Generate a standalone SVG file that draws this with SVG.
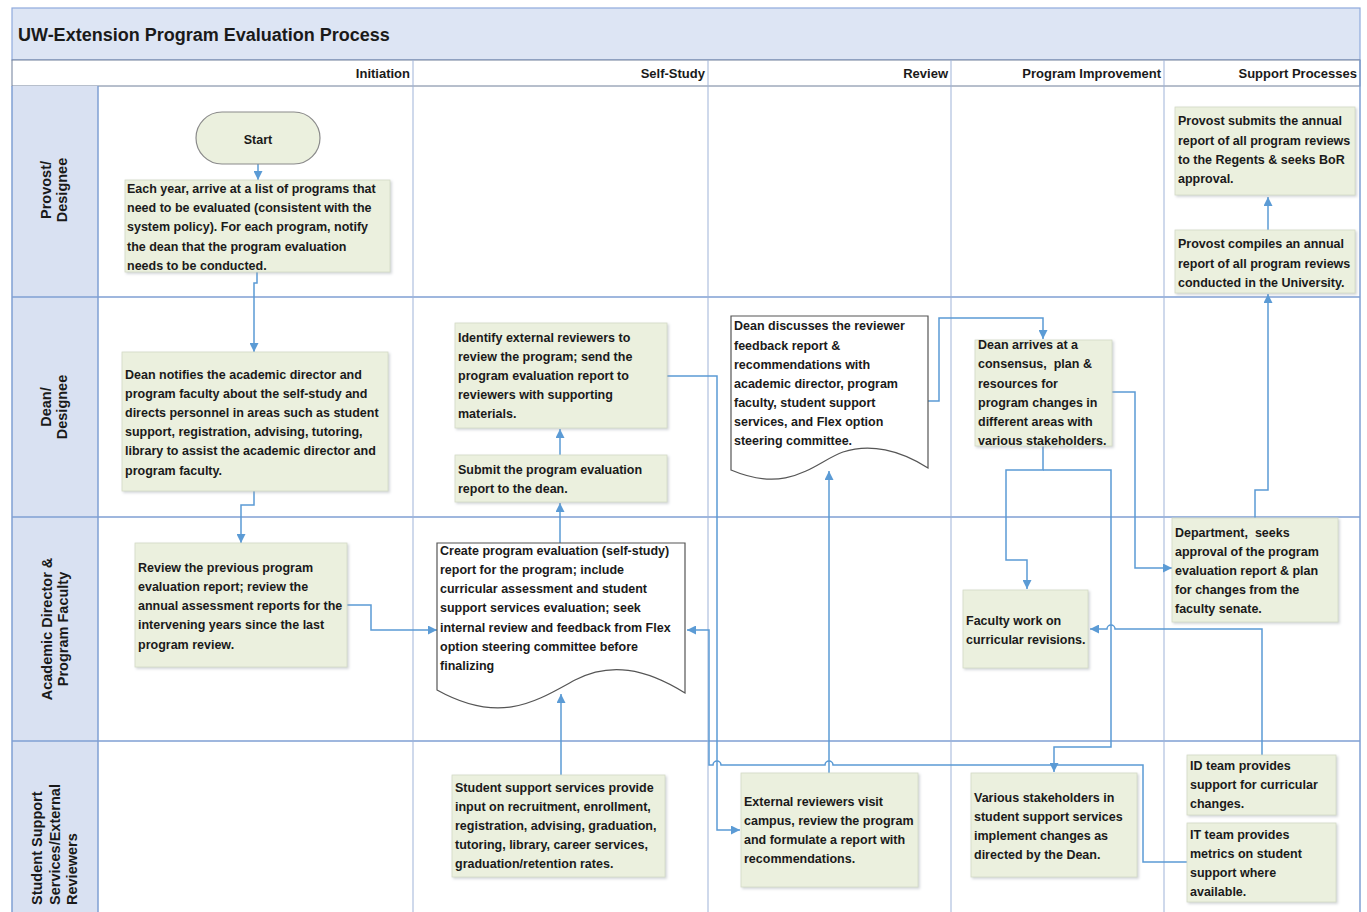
<svg xmlns="http://www.w3.org/2000/svg" width="1367" height="912" viewBox="0 0 1367 912">
<style>
.t{font-family:"Liberation Sans",Arial,sans-serif;font-weight:bold;font-size:12.5px;fill:#1a1a1a;white-space:pre}
.hd{font-family:"Liberation Sans",Arial,sans-serif;font-weight:bold;font-size:13px;fill:#1a1a1a;text-anchor:end}
.ln{font-family:"Liberation Sans",Arial,sans-serif;font-weight:bold;font-size:14.5px;fill:#1a1a1a}
.box{fill:#ebf0de;stroke:#d3d9c6;stroke-width:0.8;filter:url(#sh)}
.doc{fill:#ffffff;stroke:#555555;stroke-width:1.2}
.c{fill:none;stroke:#5b9bd5;stroke-width:1.5}
.ca{fill:none;stroke:#5b9bd5;stroke-width:1.5;marker-end:url(#ar)}
.lane{stroke:#7f9fd3;stroke-width:1.5;fill:none}
.col{stroke:#9fb3d8;stroke-width:1;fill:none}
</style>
<defs>
<marker id="ar" viewBox="0 0 10 10" refX="10" refY="5" markerWidth="9" markerHeight="9" markerUnits="userSpaceOnUse" orient="auto">
<path d="M0,0 L10,5 L0,10 Z" fill="#5b9bd5"/>
</marker>
<filter id="sh" x="-5%" y="-5%" width="115%" height="120%">
<feDropShadow dx="1.5" dy="1.5" stdDeviation="1" flood-color="#9aa0a8" flood-opacity="0.45"/>
</filter>
</defs>
<rect width="1367" height="912" fill="#ffffff"/>
<g id="frame">
<rect x="12" y="8" width="1348" height="52" fill="#dde5f4" stroke="#8faadc" stroke-width="1.2"/>
<text x="18" y="41" style="font-family:'Liberation Sans',Arial,sans-serif;font-weight:bold;font-size:18px;fill:#1a1a1a">UW-Extension Program Evaluation Process</text>
<rect x="12" y="60" width="1348" height="26" fill="#ffffff" stroke="#6f7f99" stroke-width="1"/>
<rect x="12" y="86" width="86" height="826" fill="#d9e1f2"/>
<line class="lane" x1="98" y1="86" x2="98" y2="912"/>
<line class="lane" x1="12" y1="86" x2="12" y2="912"/>
<line class="lane" x1="1360" y1="60" x2="1360" y2="912"/>
<line class="lane" x1="12" y1="297" x2="1360" y2="297"/>
<line class="lane" x1="12" y1="517" x2="1360" y2="517"/>
<line class="lane" x1="12" y1="741" x2="1360" y2="741"/>
<line class="col" x1="413" y1="60" x2="413" y2="912"/>
<line class="col" x1="708" y1="60" x2="708" y2="912"/>
<line class="col" x1="951" y1="60" x2="951" y2="912"/>
<line class="col" x1="1164" y1="60" x2="1164" y2="912"/>
<text class="hd" x="410" y="78">Initiation</text>
<text class="hd" x="705" y="78">Self-Study</text>
<text class="hd" x="948" y="78">Review</text>
<text class="hd" x="1161" y="78">Program Improvement</text>
<text class="hd" x="1357" y="78">Support Processes</text>
<g text-anchor="middle">
<text class="ln" transform="translate(51,190) rotate(-90)">Provost/</text>
<text class="ln" transform="translate(67,190) rotate(-90)">Designee</text>
<text class="ln" transform="translate(51,407) rotate(-90)">Dean/</text>
<text class="ln" transform="translate(67,407) rotate(-90)">Designee</text>
<text class="ln" transform="translate(52,629) rotate(-90)">Academic Director &amp;</text>
<text class="ln" transform="translate(68,629) rotate(-90)">Program Faculty</text>
</g>
<text class="ln" transform="translate(42,905) rotate(-90)">Student Support</text>
<text class="ln" transform="translate(60,905) rotate(-90)">Services/External</text>
<text class="ln" transform="translate(77,905) rotate(-90)">Reviewers</text>
</g>
<g id="connectors">
<path class="ca" d="M258,164 V180"/>
<path class="ca" d="M257,272 V283 H254 V352"/>
<path class="ca" d="M254,491 V505 H241 V543"/>
<path class="ca" d="M347,605 H371 V630 H437"/>
<path class="ca" d="M560,543 V503"/>
<path class="ca" d="M560,455 V429"/>
<path class="ca" d="M561,775 V694"/>
<path class="ca" d="M667,376 H717 V830 H740"/>
<path class="ca" d="M829,773 V471"/>
<path class="ca" d="M928,401 H939 V318 H1043 V339"/>
<path class="ca" d="M1043,446 V470 H1006 V560 H1027 V589"/>
<path class="ca" d="M1043,470 H1111 V747 H1054 V772"/>
<path class="ca" d="M1112,392 H1135 V568 H1172"/>
<path class="ca" d="M1262,755 V629 H1115 a4,4 0 0 0 -8,0 H1090"/>
<path class="ca" d="M1187,862 H1143 V765 H833 a4,4 0 0 0 -8,0 H721 a4,4 0 0 0 -8,0 H709 V630 H687"/>
<path class="ca" d="M1255,518 V490 H1268 V294"/>
<path class="ca" d="M1268,230 V197"/>
</g>
<g id="start">
<rect x="196" y="112" width="124" height="52" rx="26" fill="#ebf0de" stroke="#8a8a8a" stroke-width="1.2"/>
<text class="t" x="258" y="143.5" text-anchor="middle">Start</text>
</g>
<g id="n-list">
<rect class="box" x="125" y="180" width="265" height="92"/>
<text class="t" x="127" y="192.5">Each year, arrive at a list of programs that</text>
<text class="t" x="127" y="211.5">need to be evaluated (consistent with the</text>
<text class="t" x="127" y="230.5">system policy). For each program, notify</text>
<text class="t" x="127" y="250.5">the dean that the program evaluation</text>
<text class="t" x="127" y="269.5">needs to be conducted.</text>
</g>
<g id="n-dean-notifies">
<rect class="box" x="122" y="352" width="266" height="139"/>
<text class="t" x="125" y="378.5">Dean notifies the academic director and</text>
<text class="t" x="125" y="397.5">program faculty about the self-study and</text>
<text class="t" x="125" y="416.5">directs personnel in areas such as student</text>
<text class="t" x="125" y="435.5">support, registration, advising, tutoring,</text>
<text class="t" x="125" y="454.5">library to assist the academic director and</text>
<text class="t" x="125" y="474.5">program faculty.</text>
</g>
<g id="n-review-previous">
<rect class="box" x="135" y="543" width="212" height="124"/>
<text class="t" x="138" y="571.5">Review the previous program</text>
<text class="t" x="138" y="590.5">evaluation report; review the</text>
<text class="t" x="138" y="609.5">annual assessment reports for the</text>
<text class="t" x="138" y="628.5">intervening years since the last</text>
<text class="t" x="138" y="648.5">program review.</text>
</g>
<g id="n-create">
<path class="doc" d="M437,543 H685 V693 C645,668 610,662 575,680 C535,702 500,725 437,690 Z"/>
<text class="t" x="440" y="554.5">Create program evaluation (self-study)</text>
<text class="t" x="440" y="573.5">report for the program; include</text>
<text class="t" x="440" y="592.5">curricular assessment and student</text>
<text class="t" x="440" y="611.5">support services evaluation; seek</text>
<text class="t" x="440" y="631.5">internal review and feedback from Flex</text>
<text class="t" x="440" y="650.5">option steering committee before</text>
<text class="t" x="440" y="669.5">finalizing</text>
</g>
<g id="n-identify">
<rect class="box" x="455" y="323" width="212" height="105"/>
<text class="t" x="458" y="341.5">Identify external reviewers to</text>
<text class="t" x="458" y="360.5">review the program; send the</text>
<text class="t" x="458" y="379.5">program evaluation report to</text>
<text class="t" x="458" y="398.5">reviewers with supporting</text>
<text class="t" x="458" y="417.5">materials.</text>
</g>
<g id="n-submit">
<rect class="box" x="455" y="455" width="212" height="47"/>
<text class="t" x="458" y="473.5">Submit the program evaluation</text>
<text class="t" x="458" y="492.5">report to the dean.</text>
</g>
<g id="n-student-support">
<rect class="box" x="452" y="775" width="213" height="102"/>
<text class="t" x="455" y="791.5">Student support services provide</text>
<text class="t" x="455" y="810.5">input on recruitment, enrollment,</text>
<text class="t" x="455" y="829.5">registration, advising, graduation,</text>
<text class="t" x="455" y="848.5">tutoring, library, career services,</text>
<text class="t" x="455" y="867.5">graduation/retention rates.</text>
</g>
<g id="n-dean-discusses">
<path class="doc" d="M731,316 H928 V468 C900,450 870,443 843,452 C815,462 790,495 731,470 Z"/>
<text class="t" x="734" y="329.5">Dean discusses the reviewer</text>
<text class="t" x="734" y="349.5">feedback report &amp;</text>
<text class="t" x="734" y="368.5">recommendations with</text>
<text class="t" x="734" y="387.5">academic director, program</text>
<text class="t" x="734" y="406.5">faculty, student support</text>
<text class="t" x="734" y="425.5">services, and Flex option</text>
<text class="t" x="734" y="444.5">steering committee.</text>
</g>
<g id="n-external">
<rect class="box" x="741" y="773" width="177" height="114"/>
<text class="t" x="744" y="805.5">External reviewers visit</text>
<text class="t" x="744" y="824.5">campus, review the program</text>
<text class="t" x="744" y="843.5">and formulate a report with</text>
<text class="t" x="744" y="862.5">recommendations.</text>
</g>
<g id="n-dean-arrives">
<rect class="box" x="975" y="340" width="137" height="106"/>
<text class="t" x="978" y="348.5">Dean arrives at a</text>
<text class="t" x="978" y="367.5">consensus,  plan &amp;</text>
<text class="t" x="978" y="387.5">resources for</text>
<text class="t" x="978" y="406.5">program changes in</text>
<text class="t" x="978" y="425.5">different areas with</text>
<text class="t" x="978" y="444.5">various stakeholders.</text>
</g>
<g id="n-faculty-work">
<rect class="box" x="963" y="590" width="125" height="78"/>
<text class="t" x="966" y="624.5">Faculty work on</text>
<text class="t" x="966" y="643.5">curricular revisions.</text>
</g>
<g id="n-various">
<rect class="box" x="971" y="773" width="166" height="104"/>
<text class="t" x="974" y="801.5">Various stakeholders in</text>
<text class="t" x="974" y="820.5">student support services</text>
<text class="t" x="974" y="839.5">implement changes as</text>
<text class="t" x="974" y="858.5">directed by the Dean.</text>
</g>
<g id="n-department">
<rect class="box" x="1172" y="518" width="166" height="104"/>
<text class="t" x="1175" y="536.5">Department,  seeks</text>
<text class="t" x="1175" y="555.5">approval of the program</text>
<text class="t" x="1175" y="574.5">evaluation report &amp; plan</text>
<text class="t" x="1175" y="593.5">for changes from the</text>
<text class="t" x="1175" y="612.5">faculty senate.</text>
</g>
<g id="n-provost-submits">
<rect class="box" x="1175" y="107" width="180" height="88"/>
<text class="t" x="1178" y="124.5">Provost submits the annual</text>
<text class="t" x="1178" y="144.5">report of all program reviews</text>
<text class="t" x="1178" y="163.5">to the Regents &amp; seeks BoR</text>
<text class="t" x="1178" y="182.5">approval.</text>
</g>
<g id="n-provost-compiles">
<rect class="box" x="1175" y="230" width="180" height="63"/>
<text class="t" x="1178" y="247.5">Provost compiles an annual</text>
<text class="t" x="1178" y="267.5">report of all program reviews</text>
<text class="t" x="1178" y="286.5">conducted in the University.</text>
</g>
<g id="n-id-team">
<rect class="box" x="1187" y="755" width="149" height="60"/>
<text class="t" x="1190" y="769.5">ID team provides</text>
<text class="t" x="1190" y="788.5">support for curricular</text>
<text class="t" x="1190" y="807.5">changes.</text>
</g>
<g id="n-it-team">
<rect class="box" x="1187" y="823" width="149" height="79"/>
<text class="t" x="1190" y="838.5">IT team provides</text>
<text class="t" x="1190" y="857.5">metrics on student</text>
<text class="t" x="1190" y="876.5">support where</text>
<text class="t" x="1190" y="895.5">available.</text>
</g>
</svg>
